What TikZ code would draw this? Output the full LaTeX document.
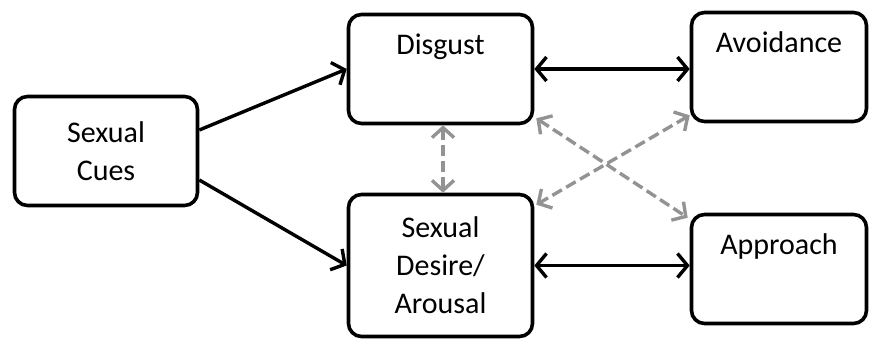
\documentclass[tikz,border=0pt]{standalone}
\usepackage{fontspec}
\setmainfont{Carlito}
\usetikzlibrary{arrows.meta}
\begin{document}
\begin{tikzpicture}[x=1pt,y=-1pt,
  box/.style={draw=black,line width=3.6pt,rounded corners=13pt,align=center,
    inner sep=0pt,font=\fontsize{30}{38}\selectfont,fill=white},
  tip/.style={Straight Barb[length=10pt,width=24pt]},
  arr/.style={line width=3.4pt,draw=black,-{Straight Barb[length=10pt,width=24pt]}},
  biarr/.style={line width=3.4pt,draw=black,{Straight Barb[length=10pt,width=24pt]}-{Straight Barb[length=10pt,width=24pt]}},
  gbiarr/.style={line width=3.4pt,draw=gray!85,dash pattern=on 11pt off 5pt,
    {Straight Barb[length=10pt,width=22pt]}-{Straight Barb[length=10pt,width=22pt]}}]
\useasboundingbox (0,0) rectangle (870,340);
\node[box,minimum width=183pt,minimum height=109pt] (cues) at (106,151) {Sexual\\Cues};
\node[box,minimum width=184pt,minimum height=109pt] (disgust) at (440.5,69) {Disgust\\\strut};
\node[box,minimum width=184pt,minimum height=142pt] (desire) at (440.5,265.5) {Sexual\\Desire/\\Arousal};
\node[box,minimum width=175pt,minimum height=109pt] (avoid) at (779,67) {Avoidance\\\strut};
\node[box,minimum width=175pt,minimum height=109pt] (approach) at (779,269) {Approach\\\strut};
\draw[arr] ([yshift=21pt]cues.east) -- (disgust.west);
\draw[arr] ([yshift=-29pt]cues.east) -- (desire.west);
\draw[biarr] (disgust.east) -- (disgust.east -| avoid.west);
\draw[biarr] (desire.east) -- (desire.east -| approach.west);
\draw[gbiarr] ([xshift=2.5pt]disgust.south) -- ([xshift=2.5pt]desire.north);
\draw[gbiarr] ([xshift=2pt,yshift=7pt]disgust.south east) -- ([xshift=-2pt,yshift=-5pt]approach.north west);
\draw[gbiarr] ([yshift=8pt]avoid.south west) -- ([xshift=2pt,yshift=-12pt]desire.north east);
\end{tikzpicture}
\end{document}
